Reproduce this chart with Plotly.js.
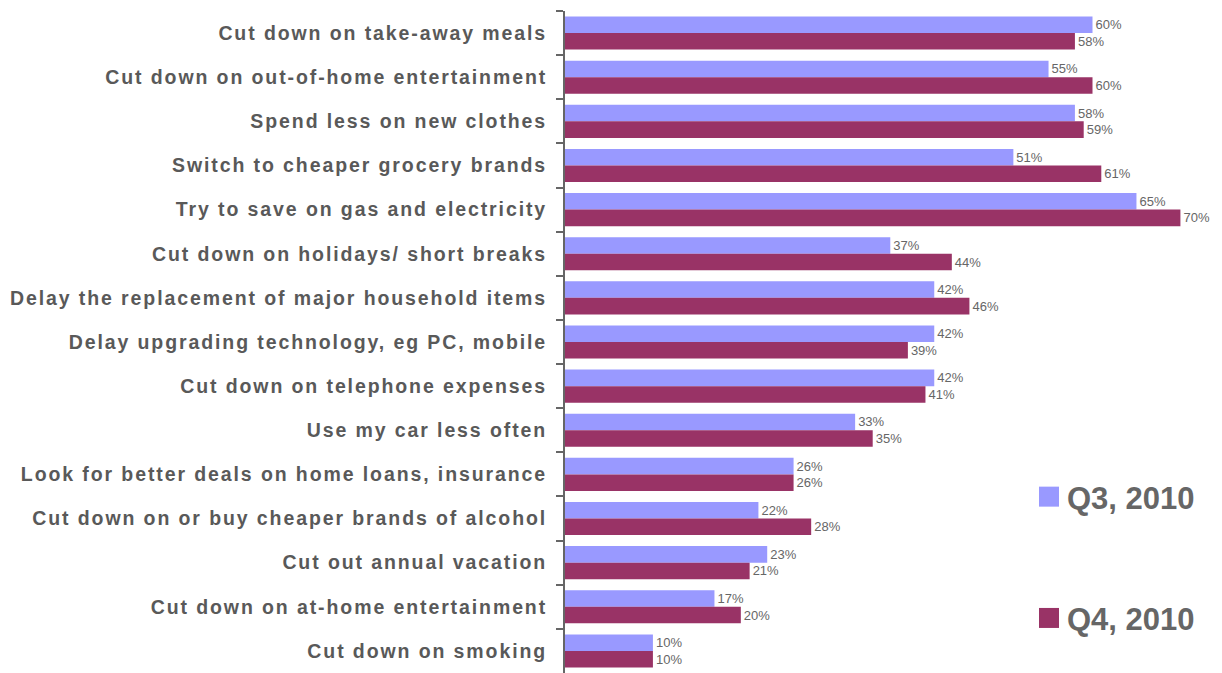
<!DOCTYPE html>
<html>
<head>
<meta charset="utf-8">
<script src="https://cdn.plot.ly/plotly-3.0.1.min.js"></script>
<style>
html,body{margin:0;padding:0;background:#fff;}
#chart .ytick text{letter-spacing:1.9px;}
</style>
</head>
<body>
<div id="chart" style="width:1222px;height:673px;"></div>
<script>
const categories = [
  "Cut down on take-away meals",
  "Cut down on out-of-home entertainment",
  "Spend less on new clothes",
  "Switch to cheaper grocery brands",
  "Try to save on gas and electricity",
  "Cut down on holidays/ short breaks",
  "Delay the replacement of major household items",
  "Delay upgrading technology, eg PC, mobile",
  "Cut down on telephone expenses",
  "Use my car less often",
  "Look for better deals on home loans, insurance",
  "Cut down on or buy cheaper brands of alcohol",
  "Cut out annual vacation",
  "Cut down on at-home entertainment",
  "Cut down on smoking"
];
const q3Values = [60, 55, 58, 51, 65, 37, 42, 42, 42, 33, 26, 22, 23, 17, 10];
const q4Values = [58, 60, 59, 61, 70, 44, 46, 39, 41, 35, 26, 28, 21, 20, 10];
const seriesNames = ["Q3, 2010", "Q4, 2010"];

const valueFont = {family: "Liberation Sans, Arial, sans-serif", size: 13, color: "#666666"};

const traces = [
  {
    type: "bar", orientation: "h", name: seriesNames[0], legendgroup: "a",
    y: categories, x: q3Values,
    marker: {color: "#9999FF"},
    text: q3Values.map(v => v + "%"), textposition: "outside",
    textfont: valueFont, cliponaxis: false, constraintext: "none",
    hoverinfo: "x+y"
  },
  {
    type: "bar", orientation: "h", name: seriesNames[1], legendgroup: "b",
    y: categories, x: q4Values,
    marker: {color: "#993366"},
    text: q4Values.map(v => v + "%"), textposition: "outside",
    textfont: valueFont, cliponaxis: false, constraintext: "none",
    hoverinfo: "x+y"
  }
];

const layout = {
  width: 1222, height: 673,
  margin: {l: 565, r: 24, t: 11, b: 0, autoexpand: false},
  paper_bgcolor: "#ffffff", plot_bgcolor: "#ffffff",
  barmode: "group", bargap: 0.25, bargroupgap: 0,
  showlegend: true,
  legend: {
    xref: "container", yref: "container",
    x: 1027/1222, y: 1 - 470/673, xanchor: "left", yanchor: "top",
    font: {family: "Liberation Sans, Arial, sans-serif", size: 31, color: "#666666", weight: "bold"},
    tracegroupgap: 78, traceorder: "grouped",
    bgcolor: "rgba(0,0,0,0)", itemwidth: 30
  },
  xaxis: {
    range: [0, 72], visible: false, fixedrange: true
  },
  yaxis: {
    type: "category", autorange: "reversed",
    showline: true, linecolor: "#666666", linewidth: 2,
    ticks: "outside", ticklen: 7, tickcolor: "#666666", tickwidth: 2,
    tickson: "boundaries", ticklabelstandoff: 12,
    showgrid: false, zeroline: false, automargin: false,
    tickfont: {family: "Liberation Sans, Arial, sans-serif", size: 19.5, color: "#595959", weight: "bold"}
  }
};

function enlargeLegendSymbols() {
  document.querySelectorAll("#chart .legend .legendpoints path").forEach(p => {
    p.setAttribute("d", "M12,10H-8V-10H12Z");
  });
}

Plotly.newPlot("chart", traces, layout, {displayModeBar: false, responsive: false})
  .then(gd => { enlargeLegendSymbols(); gd.on("plotly_afterplot", enlargeLegendSymbols); });
</script>
</body>
</html>
